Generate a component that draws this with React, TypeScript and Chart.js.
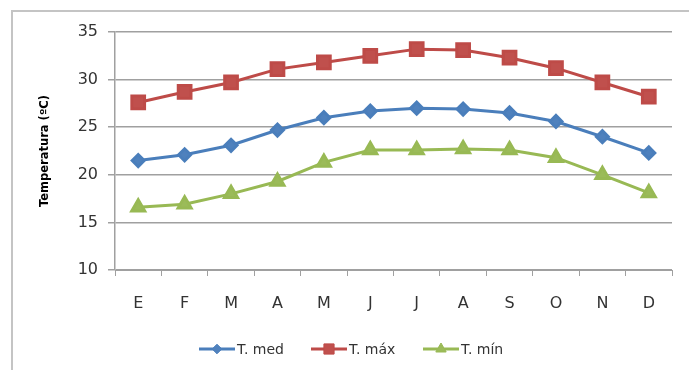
import React, { useEffect, useRef } from 'react';
import { Chart, registerables } from 'chart.js';
import { drawPoint } from 'chart.js/helpers';

Chart.register(...registerables);

const months = ['E', 'F', 'M', 'A', 'M', 'J', 'J', 'A', 'S', 'O', 'N', 'D'];
const tMed = [21.5, 22.1, 23.1, 24.7, 26.0, 26.7, 27.0, 26.9, 26.5, 25.6, 24.0, 22.3];
const tMax = [27.6, 28.7, 29.7, 31.1, 31.8, 32.5, 33.2, 33.1, 32.3, 31.2, 29.7, 28.2];
const tMin = [16.6, 16.9, 18.0, 19.3, 21.3, 22.6, 22.6, 22.7, 22.6, 21.8, 20.0, 18.1];
const seriesNames = ['T. med', 'T. máx', 'T. mín'];
const yMin = 10;
const yMax = 35;
const yStep = 5;
const yTitle = 'Temperatura (ºC)';

const legendPlugin = {
  id: 'customLegend',
  afterDraw(chart: any) {
    const ctx = chart.ctx;
    const y = 349;
    const startX = 199;
    const itemStep = 112;
    chart.data.datasets.forEach((ds: any, i: number) => {
      const x = startX + i * itemStep;
      ctx.save();
      ctx.strokeStyle = ds.borderColor;
      ctx.lineWidth = 3;
      ctx.beginPath();
      ctx.moveTo(x, y);
      ctx.lineTo(x + 36, y);
      ctx.stroke();
      ctx.fillStyle = ds.pointBackgroundColor;
      ctx.strokeStyle = ds.pointBorderColor;
      ctx.lineWidth = 1;
      drawPoint(ctx, { pointStyle: ds.pointStyle, radius: ds.pointRadius * 0.8, rotation: 0, borderWidth: 1 }, x + 18, y);
      ctx.fillStyle = '#333333';
      ctx.font = '14px "DejaVu Sans"';
      ctx.textBaseline = 'middle';
      ctx.textAlign = 'left';
      ctx.fillText(ds.label, x + 38, y + 1);
      ctx.restore();
    });
  },
};

export default function App() {
  const ref = useRef<HTMLCanvasElement | null>(null);

  useEffect(() => {
    if (!ref.current) return;
    const gridColor = '#a0a0a0';
    const chart = new Chart(ref.current, {
      type: 'line',
      data: {
        labels: months,
        datasets: [
          {
            label: seriesNames[0],
            data: tMed,
            borderColor: '#4a7ebb',
            backgroundColor: '#4f81bd',
            pointBackgroundColor: '#4f81bd',
            pointBorderColor: '#4a7ebb',
            pointStyle: 'rectRot',
            pointRadius: 6,
            borderWidth: 3,
            tension: 0,
          },
          {
            label: seriesNames[1],
            data: tMax,
            borderColor: '#be4b48',
            backgroundColor: '#c0504d',
            pointBackgroundColor: '#c0504d',
            pointBorderColor: '#be4b48',
            pointStyle: 'rect',
            pointRadius: 9,
            borderWidth: 3,
            tension: 0,
          },
          {
            label: seriesNames[2],
            data: tMin,
            borderColor: '#98b954',
            backgroundColor: '#9bbb59',
            pointBackgroundColor: '#9bbb59',
            pointBorderColor: '#98b954',
            pointStyle: 'triangle',
            pointRadius: 7.5,
            borderWidth: 3,
            tension: 0,
          },
        ],
      },
      options: {
        responsive: false,
        animation: false,
        events: [],
        layout: { padding: { left: 38, top: 32, right: 17, bottom: 0 } },
        plugins: {
          legend: { display: false },
          tooltip: { enabled: false },
        },
        scales: {
          x: {
            type: 'category',
            offset: true,
            grid: {
              offset: true,
              drawOnChartArea: false,
              drawTicks: true,
              tickLength: 6,
              color: gridColor,
              lineWidth: 1,
            },
            border: { color: gridColor, width: 1 },
            ticks: {
              color: '#333333',
              font: { family: 'DejaVu Sans', size: 16 },
              padding: 18,
              maxRotation: 0,
              autoSkip: false,
            },
            afterFit: (s: any) => {
              s.height = 100;
            },
          },
          y: {
            min: yMin,
            max: yMax,
            grid: { color: gridColor, lineWidth: 1.5, tickLength: 7 },
            border: { color: gridColor, width: 1.5 },
            ticks: {
              stepSize: yStep,
              color: '#333333',
              font: { family: 'DejaVu Sans', size: 16 },
              padding: 10,
            },
            title: {
              display: true,
              text: yTitle,
              color: '#000000',
              font: { family: 'DejaVu Sans', size: 11.5, weight: 'bold' },
              padding: 0,
            },
            afterFit: (s: any) => {
              s.width = 77;
            },
          },
        },
      },
      plugins: [legendPlugin],
    } as any);
    return () => chart.destroy();
  }, []);

  return (
    <div style={{ position: 'absolute', left: 0, top: 0, width: 689, height: 370, overflow: 'hidden', background: '#ffffff' }}>
      <div
        style={{
          position: 'absolute',
          left: 11,
          top: 10,
          width: 720,
          height: 420,
          border: '2px solid #c4c4c4',
          boxSizing: 'border-box',
        }}
      />
      <canvas ref={ref} width={689} height={370} style={{ position: 'absolute', left: 0, top: 0, display: 'block' }} />
    </div>
  );
}
